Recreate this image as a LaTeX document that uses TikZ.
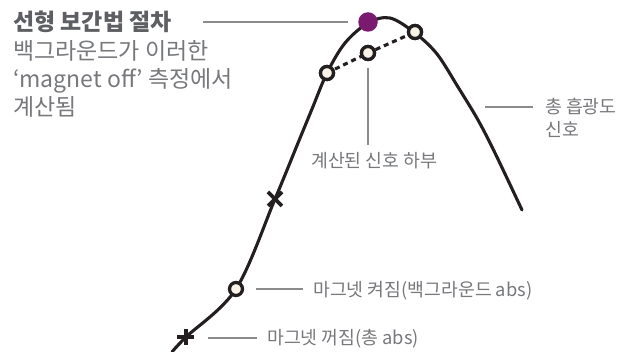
\documentclass[tikz,border=0pt]{standalone}
\usepackage{fontspec}
\setmainfont{Noto Sans CJK KR}
\definecolor{curvec}{HTML}{231F20}
\definecolor{textgray}{HTML}{77787B}
\definecolor{headgray}{HTML}{5E5F62}
\definecolor{leadgray}{HTML}{8A8B8D}
\definecolor{cream}{HTML}{F8F3E6}
\definecolor{dotpurple}{HTML}{7B1B6F}
\begin{document}
\begin{tikzpicture}[x=1pt,y=-1pt,
  curve/.style={line width=3.1pt, draw=curvec, line cap=round},
  ring/.style={circle, draw=curvec, fill=cream, line width=3.3pt, minimum size=13pt, inner sep=0pt},
  dot/.style={circle, fill=dotpurple, minimum size=19.5pt, inner sep=0pt},
  pt/.style={inner sep=0pt, minimum size=0pt},
  markline/.style={line width=3.8pt, draw=curvec},
  interp/.style={line width=3.1pt, draw=curvec, dash pattern=on 5pt off 4pt},
  leader/.style={draw=leadgray, line width=1.2pt},
  lbl/.style={text=textgray, font=\fontsize{18.3}{22}\selectfont, inner sep=0pt, anchor=base west},
  side/.style={text=textgray, font=\fontsize{23}{28}\selectfont, inner sep=0pt, anchor=base west},
  head/.style={text=headgray, font=\fontsize{23}{28}\selectfont\bfseries, inner sep=0pt, anchor=base west}]
\useasboundingbox (0,0) rectangle (627,352);

% main curve
\draw[curve] plot[smooth, tension=0.55] coordinates {
  (172,352) (186,337) (236,289) (275,199) (298,143) (312,109) (327,73)
  (345,43) (368,23) (390,18) (415,33) (437,54) (458,87) (478,120) (495,153) (522,210)};

% marker positions
\node[pt] (plusm) at (186,337) {};
\node[pt] (xm) at (275,199) {};

% interpolation dashed line
\node[ring] (c1) at (327,73) {};
\node[ring] (c2) at (368,53) {};
\node[ring] (c3) at (415,32) {};
\draw[interp] (c1.center) -- (c2.center) -- (c3.center);
\node[ring] at (c1) {};
\node[ring] at (c2) {};
\node[ring] at (c3) {};
\node[ring] (c0) at (236,289) {};
\node[dot] (pdot) at (368,22) {};

% markers
\draw[markline] ([shift={(-7,-7)}]xm.center) -- ([shift={(7,7)}]xm.center);
\draw[markline] ([shift={(-7,7)}]xm.center) -- ([shift={(7,-7)}]xm.center);
\draw[markline] ([shift={(-9,0)}]plusm.center) -- ([shift={(8,0)}]plusm.center);
\draw[markline] ([shift={(0,-8)}]plusm.center) -- ([shift={(0,8)}]plusm.center);

% texts
\node[head] (t1) at (13,31) {선형 보간법 절차};
\node[side] (t2) at (13,60) {백그라운드가 이러한};
\node[side] (t3) at (13,88) {‘magnet off’ 측정에서};
\node[side] (t4) at (13,116) {계산됨};
\node[lbl] (lsub) at (311,168) {계산된 신호 하부};
\node[lbl] (ltot1) at (545,114) {총 흡광도};
\node[lbl] (ltot2) at (545,137) {신호};
\node[lbl] (lon) at (313,297) {마그넷 켜짐(백그라운드 abs)};
\node[lbl] (loff) at (267,345) {마그넷 꺼짐(총 abs)};

% leaders
\coordinate (h1) at (203,22);
\coordinate (h2) at (348,22);
\draw[leader] (h1) -- (h2);
\coordinate (v1) at (368,68);
\coordinate (v2) at (368,145);
\draw[leader] (v1) -- (v2);
\coordinate (r1) at (485,107);
\coordinate (r2) at (533,107);
\draw[leader] (r1) -- (r2);
\coordinate (o1) at (256,289);
\coordinate (o2) at (303,289);
\draw[leader] (o1) -- (o2);
\coordinate (f1) at (208,338);
\coordinate (f2) at (257,338);
\draw[leader] (f1) -- (f2);
\end{tikzpicture}
\end{document}
